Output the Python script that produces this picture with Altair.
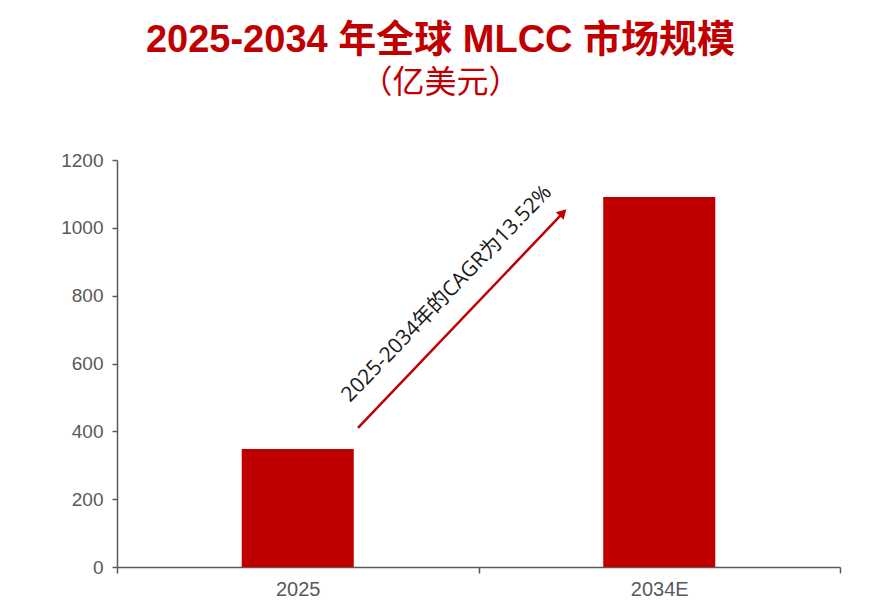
import altair as alt
import pandas as pd

categories = ["2025", "2034E"]
values = [348, 1091]

title_line1 = "2025-2034 年全球 MLCC 市场规模"
title_line2 = "（亿美元）"
cagr_label = "2025-2034年的CAGR为13.52%"

# arrow start/end in data units (y) ; x in pixels inside plot
arrow_y = [410, 1059]

RED = "#C00000"
GREY = "#595959"
LABEL_FONT = "Liberation Sans Narrow, Liberation Sans, Arial"

bars_df = pd.DataFrame({"year": categories, "value": values})

base = alt.Chart(bars_df)

bars = base.mark_bar(color=RED, width=alt.RelativeBandSize(0.31)).encode(
    x=alt.X(
        "year:N",
        sort=None,
        scale=alt.Scale(paddingInner=0, paddingOuter=0),
        axis=alt.Axis(
            title=None,
            labelAngle=0,
            tickBand="extent",
            labelFont=LABEL_FONT,
            labelFontSize=20,
            labelColor=GREY,
            labelPadding=6,
            tickSize=6,
            tickColor=GREY,
            tickWidth=1.5,
            domainColor=GREY,
            domainWidth=1.5,
            grid=False,
        ),
    ),
    y=alt.Y(
        "value:Q",
        scale=alt.Scale(domain=[0, 1200], nice=False),
        axis=alt.Axis(
            title=None,
            values=[0, 200, 400, 600, 800, 1000, 1200],
            format="d",
            labelFont=LABEL_FONT,
            labelFontSize=19,
            labelColor=GREY,
            labelPadding=9,
            tickSize=5,
            tickColor=GREY,
            tickWidth=1.5,
            domainColor=GREY,
            domainWidth=1.5,
            grid=False,
        ),
    ),
)

arrow_df = pd.DataFrame({"y0": [arrow_y[0]], "y1": [arrow_y[1] - 15]})
arrow_line = alt.Chart(arrow_df).mark_rule(color=RED, strokeWidth=2.5).encode(
    x=alt.value(241),
    x2=alt.value(446),
    y=alt.Y("y0:Q"),
    y2=alt.Y2("y1:Q"),
)

head_df = pd.DataFrame({"y": [arrow_y[1] - 14]})
arrow_head = alt.Chart(head_df).mark_point(
    shape="triangle-up", filled=True, color=RED, size=120, angle=44, opacity=1
).encode(x=alt.value(446), y=alt.Y("y:Q"))

text_df = pd.DataFrame({"label": [cagr_label], "y": [805]})
label = alt.Chart(text_df).mark_text(
    angle=314,
    font="Open Sans, Noto Sans CJK SC",
    fontSize=21,
    color="#1a1a1a",
    align="center",
    baseline="middle",
).encode(x=alt.value(330), y=alt.Y("y:Q"), text="label:N")

chart = (
    alt.layer(bars, arrow_line, arrow_head, label)
    .properties(
        width=723,
        height=407,
        view=alt.ViewBackground(stroke="transparent", strokeWidth=0),
        autosize=alt.AutoSizeParams(type="none"),
        padding={"left": 117, "top": 160, "right": 46, "bottom": 36},
        title=alt.TitleParams(
            text=title_line1,
            subtitle=title_line2,
            font="Liberation Sans, Noto Sans CJK SC",
            fontSize=38,
            fontWeight="bold",
            color=RED,
            subtitleFont="Noto Sans CJK SC",
            subtitleFontSize=32,
            subtitleFontWeight="normal",
            subtitleColor=RED,
            subtitlePadding=8,
            anchor="middle",
            dx=-38,
            offset=52,
        ),
    )
    .configure_view(strokeWidth=0, stroke="transparent")
    .configure(background="white")
)

chart.save("out.html", embed_options={"renderer": "svg", "actions": False})
